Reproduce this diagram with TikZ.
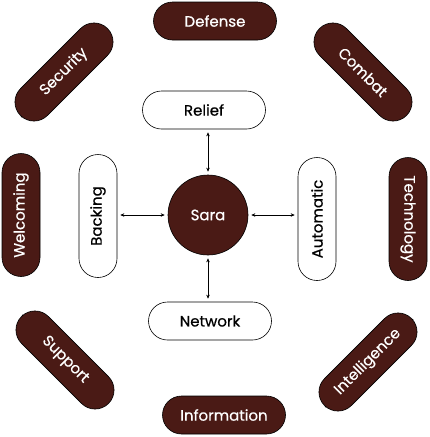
\documentclass[tikz,border=0pt]{standalone}
\usepackage{fontspec}
\setmainfont{Poppins}[FakeBold=0.6]
\usetikzlibrary{arrows.meta}
\definecolor{maroon}{HTML}{4A1A15}
\begin{document}
\begin{tikzpicture}[x=1pt,y=-1pt,
  pill/.style={rectangle,rounded corners=19pt,minimum width=123pt,minimum height=38pt,inner sep=0pt,font=\fontsize{15}{17}\selectfont},
  darkpill/.style={pill,draw=black,line width=0.6pt,fill=maroon,text=white},
  lightpill/.style={pill,draw=black,line width=0.6pt,fill=white,text=black},
  hub/.style={circle,draw=black,line width=0.6pt,fill=maroon,text=white,minimum size=80pt,inner sep=0pt,font=\fontsize{15}{17}\selectfont},
  link/.style={{Stealth[length=4pt,width=3.5pt]}-{Stealth[length=4pt,width=3.5pt]},line width=0.6pt,shorten <=3pt,shorten >=3pt}]
\useasboundingbox (0,0) rectangle (430,437);
% outer ring
\node[darkpill] (defense) at (215,21) {Defense};
\node[darkpill,rotate=45] (security) at (64,72) {Security};
\node[darkpill,rotate=-45] (combat) at (363,72) {Combat};
\node[darkpill,rotate=90] (welcoming) at (21,215) {Welcoming};
\node[darkpill,rotate=-90] (technology) at (408,219) {Technology};
\node[darkpill,rotate=-45] (support) at (65,360) {Support};
\node[darkpill,rotate=45] (intelligence) at (368,362) {Intelligence};
\node[darkpill] (information) at (224,415) {Information};
% inner ring
\node[lightpill] (relief) at (204,110) {Relief};
\node[lightpill,rotate=90] (backing) at (98,216) {Backing};
\node[lightpill,rotate=90] (automatic) at (317,219) {Automatic};
\node[lightpill] (network) at (210,321) {Network};
% hub
\node[hub] (sara) at (208,215) {Sara};
% connectors
\draw[link] (relief.south -| sara.north) -- (sara.north);
\draw[link] (sara.south) -- (sara.south |- network.north);
\draw[link] (backing.south |- sara.west) -- (sara.west);
\draw[link] (sara.east) -- (automatic.north |- sara.east);
\end{tikzpicture}
\end{document}
